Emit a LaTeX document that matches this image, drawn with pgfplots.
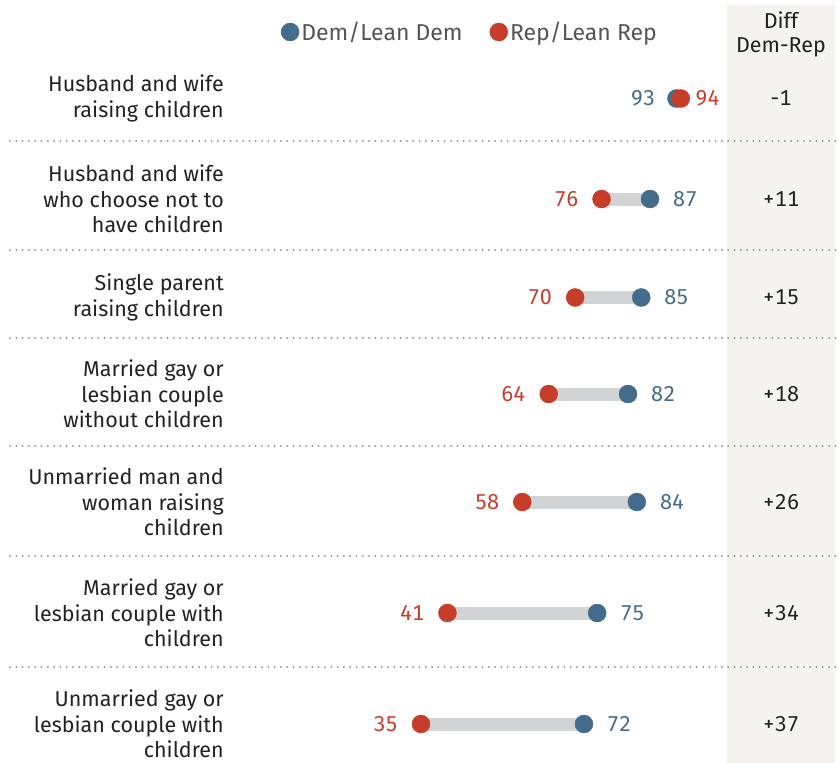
\documentclass[border=0pt]{standalone}
\usepackage{pgfplots}
\pgfplotsset{compat=1.18}
\usepackage{pgfplotstable}
\usepackage{fontspec}
\setmainfont{Fira Sans}[Numbers={Monospaced,Lining}]
\definecolor{dem}{HTML}{436B8C}
\definecolor{rep}{HTML}{C63D2A}
\definecolor{barg}{HTML}{D1D3D4}
\definecolor{diffbg}{HTML}{F4F3EF}
\definecolor{txt}{HTML}{222222}
\definecolor{leg}{HTML}{555555}
\definecolor{sep}{HTML}{8A8A8A}

\pgfplotstableread{
y dem rep
98.5 93 94
199 87 76
297.5 85 70
394 82 64
502 84 58
613 75 41
724 72 35
}\data

\newcommand{\fs}{\fontsize{21.5bp}{25.5bp}\selectfont}
\newcommand{\fsl}{\fontsize{23bp}{26bp}\selectfont}
\begin{document}
\begin{tikzpicture}
\begin{axis}[
  width=839bp, height=763bp, scale only axis,
  xmin=-60.57, xmax=129.9, ymin=0, ymax=763, y dir=reverse,
  hide axis, clip=false,
  legend style={at={(axis cs:3.2,32)}, anchor=west, draw=none, fill=none,
    inner sep=0pt, outer sep=0pt, font=\fsl, text=leg,
    nodes={inner xsep=2bp, inner ysep=0pt},
    /tikz/every even column/.append style={column sep=25bp}},
  legend columns=2,
]
\path (rel axis cs:0,0) rectangle (rel axis cs:1,1);
\fill[diffbg] (axis cs:104.47,5) rectangle (axis cs:128.99,763);
% separators
\pgfplotsinvokeforeach{141,250,338,446,556,667}{
  \draw[sep, line width=2bp, line cap=round, dash pattern=on 0bp off 6.3bp] (axis cs:-58.3,#1) -- (axis cs:129.4,#1);
}
% bars
\addplot[barg, line width=13bp, forget plot] coordinates {(94,98.5) (93,98.5)};
\addplot[barg, line width=13bp, forget plot] coordinates {(76,199) (87,199)};
\addplot[barg, line width=13bp, forget plot] coordinates {(70,297.5) (85,297.5)};
\addplot[barg, line width=13bp, forget plot] coordinates {(64,394) (82,394)};
\addplot[barg, line width=13bp, forget plot] coordinates {(58,502) (84,502)};
\addplot[barg, line width=13bp, forget plot] coordinates {(41,613) (75,613)};
\addplot[barg, line width=13bp, forget plot] coordinates {(35,724) (72,724)};
% dots
\addplot[dem, only marks, mark=*, mark size=9bp, mark options={draw=none, fill=dem},
  legend image code/.code={\fill[dem] (0bp,0bp) circle (9bp);}] table[x=dem,y=y]\data;
\addlegendentry{Dem/Lean Dem}
\addplot[rep, only marks, mark=*, mark size=9bp, mark options={draw=none, fill=rep},
  legend image code/.code={\fill[rep] (0bp,0bp) circle (9bp);}] table[x=rep,y=y]\data;
\addlegendentry{Rep/Lean Rep}

% category labels
\begin{scope}[every node/.style={anchor=east, align=right, font=\fs, text=txt, inner sep=0pt}]
\node at (axis cs:-9.72,98.5) {Husband and wife\\raising children};
\node at (axis cs:-9.72,199) {Husband and wife\\who choose not to\\have children};
\node at (axis cs:-9.72,297.5) {Single parent\\raising children};
\node at (axis cs:-9.72,394) {Married gay or\\lesbian couple\\without children};
\node at (axis cs:-9.72,502) {Unmarried man and\\woman raising\\children};
\node at (axis cs:-9.72,613) {Married gay or\\lesbian couple with\\children};
\node at (axis cs:-9.72,724) {Unmarried gay or\\lesbian couple with\\children};
\end{scope}

% value labels
\begin{scope}[every node/.style={font=\fs, inner sep=0pt}]
\node[anchor=east, text=dem] at ([xshift=-21bp]axis cs:93,98.5) {93};
\node[anchor=west, text=rep] at ([xshift=14.5bp]axis cs:94,98.5) {94};
\node[anchor=east, text=rep] at ([xshift=-23bp]axis cs:76,199) {76};
\node[anchor=west, text=dem] at ([xshift=23bp]axis cs:87,199) {87};
\node[anchor=east, text=rep] at ([xshift=-23bp]axis cs:70,297.5) {70};
\node[anchor=west, text=dem] at ([xshift=23bp]axis cs:85,297.5) {85};
\node[anchor=east, text=rep] at ([xshift=-23bp]axis cs:64,394) {64};
\node[anchor=west, text=dem] at ([xshift=23bp]axis cs:82,394) {82};
\node[anchor=east, text=rep] at ([xshift=-23bp]axis cs:58,502) {58};
\node[anchor=west, text=dem] at ([xshift=23bp]axis cs:84,502) {84};
\node[anchor=east, text=rep] at ([xshift=-23bp]axis cs:41,613) {41};
\node[anchor=west, text=dem] at ([xshift=23bp]axis cs:75,613) {75};
\node[anchor=east, text=rep] at ([xshift=-23bp]axis cs:35,724) {35};
\node[anchor=west, text=dem] at ([xshift=23bp]axis cs:72,724) {72};
\end{scope}

% diff column
\begin{scope}[every node/.style={font=\fs, text=txt, inner sep=0pt, anchor=center}]
\node at (axis cs:116.73,20) {Diff};
\node at (axis cs:116.73,47) {Dem-Rep};
\node at (axis cs:116.73,98.5) {-1};
\node at (axis cs:116.73,199) {+11};
\node at (axis cs:116.73,297.5) {+15};
\node at (axis cs:116.73,394) {+18};
\node at (axis cs:116.73,502) {+26};
\node at (axis cs:116.73,613) {+34};
\node at (axis cs:116.73,724) {+37};
\end{scope}
\end{axis}
\end{tikzpicture}
\end{document}
